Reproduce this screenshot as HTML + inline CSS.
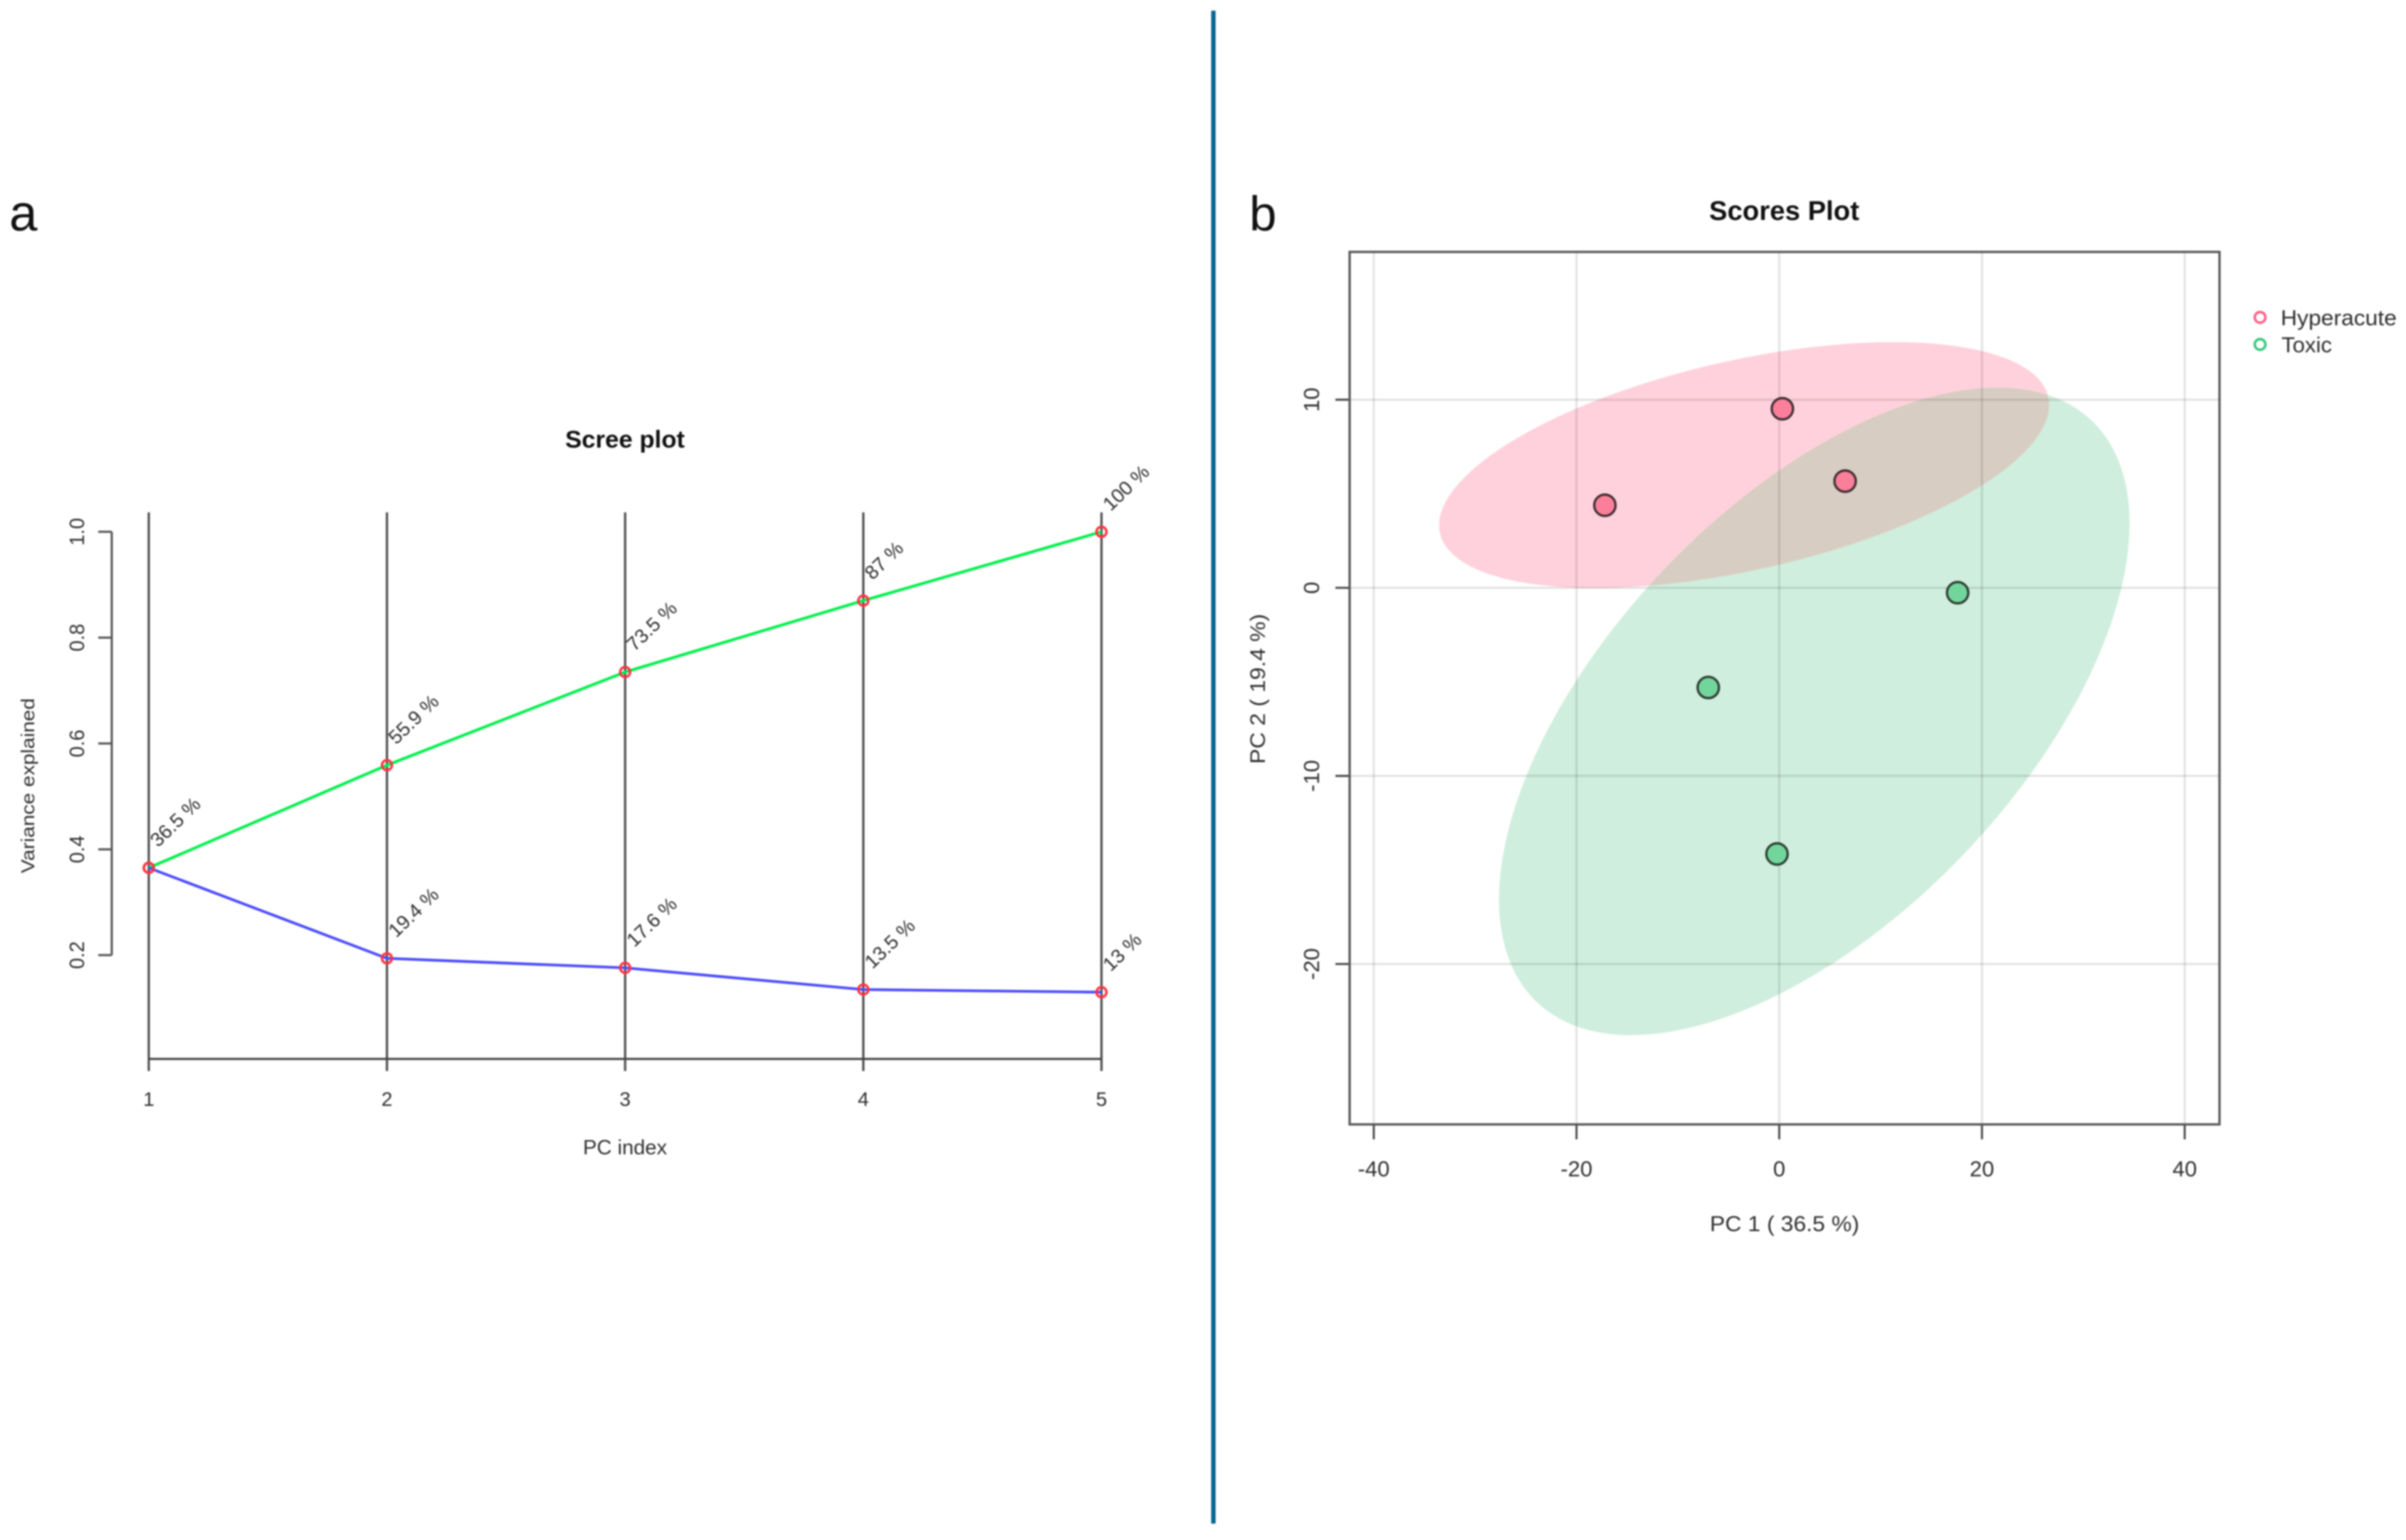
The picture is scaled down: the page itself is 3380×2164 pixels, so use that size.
<!DOCTYPE html>
<html>
<head>
<meta charset="utf-8">
<title>Scree plot and scores plot</title>
<style>
html,body{margin:0;padding:0;background:#fff;}
svg{display:block;width:3380px;height:2164px;font-family:"Liberation Sans",sans-serif;filter:blur(1px);}
</style>
</head>
<body>
<svg id="figure" xmlns="http://www.w3.org/2000/svg" width="3380" height="2164" viewBox="0 0 3380 2164">
  <rect x="0" y="0" width="3380" height="2164" fill="#fff"/>
  <rect x="1701.5" y="15" width="6.2" height="2126" fill="#046690"/>
  <text x="13" y="324" font-size="71" fill="#111">a</text>
  <text x="1755" y="324" font-size="69" fill="#111">b</text>
  <g id="scree">
    <text x="878" y="629" text-anchor="middle" font-size="34" font-weight="bold" fill="#111" textLength="168" lengthAdjust="spacingAndGlyphs">Scree plot</text>
    <text x="878" y="1622" text-anchor="middle" font-size="29" fill="#2f2f2f" textLength="118" lengthAdjust="spacingAndGlyphs">PC index</text>
    <text transform="translate(48 1104) rotate(-90)" text-anchor="middle" font-size="26" fill="#2f2f2f" textLength="246" lengthAdjust="spacingAndGlyphs">Variance explained</text>
  </g>
  <g id="scores">
    <text x="2506.5" y="309" text-anchor="middle" font-size="38" font-weight="bold" fill="#111" textLength="211" lengthAdjust="spacingAndGlyphs">Scores Plot</text>
    <text x="2507" y="1730" text-anchor="middle" font-size="31" fill="#2f2f2f" textLength="210" lengthAdjust="spacingAndGlyphs">PC 1 ( 36.5 %)</text>
    <text transform="translate(1777 968) rotate(-90)" text-anchor="middle" font-size="30" fill="#2f2f2f" textLength="211" lengthAdjust="spacingAndGlyphs">PC 2 ( 19.4 %)</text>
  </g>
  <g id="legend">
    <g>
      <circle cx="3175" cy="446" r="7.5" fill="none" stroke="#ff5c86" stroke-width="3.5"/>
      <text x="3204" y="457" font-size="31" fill="#2f2f2f" textLength="163" lengthAdjust="spacingAndGlyphs">Hyperacute</text>
    </g>
    <g>
      <circle cx="3175" cy="484" r="7.5" fill="none" stroke="#2fc878" stroke-width="3.5"/>
      <text x="3205" y="495" font-size="31" fill="#2f2f2f" textLength="71" lengthAdjust="spacingAndGlyphs">Toxic</text>
    </g>
  </g>
</svg>
<script>
// Scree plot data
const pcIndex = [1, 2, 3, 4, 5];
const cumulativeVariance = [0.365, 0.559, 0.735, 0.87, 1.0];
const individualVariance = [0.365, 0.194, 0.176, 0.135, 0.13];
const cumulativeLabels = ['36.5 %', '55.9 %', '73.5 %', '87 %', '100 %'];
const individualLabels = ['', '19.4 %', '17.6 %', '13.5 %', '13 %'];
const screeYTicks = [0.2, 0.4, 0.6, 0.8, 1.0];
const screeYTickLabels = ['0.2', '0.4', '0.6', '0.8', '1.0'];

// Scores plot data
const scoresXTicks = [-40, -20, 0, 20, 40];
const scoresYTicks = [-20, -10, 0, 10];
const hyperacutePC1 = [-17.2, 0.31, 6.5];
const hyperacutePC2 = [4.39, 9.52, 5.67];
const toxicPC1 = [-7.0, 17.6, -0.22];
const toxicPC2 = [-5.3, -0.26, -14.15];

const NS = 'http://www.w3.org/2000/svg';
const figure = document.getElementById('figure');
const scree = document.getElementById('scree');
const scores = document.getElementById('scores');

function make(tag, parent, attrs, text) {
  const node = document.createElementNS(NS, tag);
  for (const k in attrs) node.setAttribute(k, attrs[k]);
  if (text !== undefined) node.textContent = text;
  parent.appendChild(node);
  return node;
}

// Axis functions
const screeX = i => 209 + (i - 1) * 334.6;
const screeY = v => 747.3 + (1 - v) * 743.6;
const scoresX = v => 2499.5 + v * 14.24;
const scoresY = v => 826 - v * 26.43;

// ---- Scree plot ----
let el;
pcIndex.forEach(function (pc) {
  el = make('line', scree, {x1: screeX(pc), x2: screeX(pc), y1: 720, y2: 1505, stroke: '#4e4e4e', 'stroke-width': 3.2});
  
  
  el = make('text', scree, {x: screeX(pc), y: 1554, 'text-anchor': 'middle', 'font-size': 28, fill: '#2f2f2f'}, String(pc));
  
  
});
el = make('line', scree, {x1: screeX(pcIndex[0]), x2: screeX(pcIndex[pcIndex.length - 1]), y1: 1488, y2: 1488, stroke: '#444', 'stroke-width': 3});


el = make('line', scree, {x1: 157, x2: 157, y1: screeY(screeYTicks[0]), y2: screeY(screeYTicks[screeYTicks.length - 1]), stroke: '#555', 'stroke-width': 3});


screeYTicks.forEach(function (t, i) {
  el = make('line', scree, {x1: 138, x2: 157, y1: screeY(t), y2: screeY(t), stroke: '#555', 'stroke-width': 3});
  
  
  el = make('text', scree, {transform: 'translate(118 ' + screeY(t) + ') rotate(-90)', 'text-anchor': 'middle', 'font-size': 29, fill: '#2f2f2f', textLength: 39, lengthAdjust: 'spacingAndGlyphs'}, screeYTickLabels[i]);
  
  
});

function seriesPoints(values) {
  return values.map((v, i) => screeX(pcIndex[i]) + ',' + screeY(v)).join(' ');
}
el = make('polyline', scree, {points: seriesPoints(cumulativeVariance), fill: 'none', stroke: '#00f04c', 'stroke-width': 4});


el = make('polyline', scree, {points: seriesPoints(individualVariance), fill: 'none', stroke: '#4a4aff', 'stroke-width': 3.8});



function drawScreeSeries(values, labels, pointName, labelName) {
  values.forEach(function (v, i) {
    const px = screeX(pcIndex[i]);
    const py = screeY(v);
    const dot = make('circle', scree, {cx: px, cy: py, r: 7, fill: 'none', stroke: '#ff3040', 'stroke-width': 3.4});
    
    
    if (labels[i]) {
      const lab = make('text', scree, {transform: 'translate(' + (px + 13) + ' ' + (py - 28) + ') rotate(-44)', 'font-size': 27.5, fill: '#2f2f2f'}, labels[i]);
      
      
    }
  });
}
drawScreeSeries(cumulativeVariance, cumulativeLabels, 'cumulative-point', 'cumulative-value-label');
drawScreeSeries(individualVariance, individualLabels, 'individual-point', 'individual-value-label');

// ---- Scores plot ----
function mean(a) { return a.reduce((s, v) => s + v, 0) / a.length; }
function ellipsePath(xs, ys) {
  const mx = mean(xs), my = mean(ys), n = xs.length;
  let sxx = 0, syy = 0, sxy = 0;
  for (let i = 0; i < n; i++) {
    sxx += (xs[i] - mx) * (xs[i] - mx);
    syy += (ys[i] - my) * (ys[i] - my);
    sxy += (xs[i] - mx) * (ys[i] - my);
  }
  const sx = Math.sqrt(sxx / (n - 1)), sy = Math.sqrt(syy / (n - 1));
  const r = (sxy / (n - 1)) / (sx * sy);
  const k = 2.448; // 95% confidence region, chi-square with 2 df
  const parts = [];
  for (let j = 0; j < 180; j++) {
    const t = j / 180 * 2 * Math.PI;
    const ex = mx + k * sx * Math.cos(t);
    const ey = my + k * sy * (r * Math.cos(t) + Math.sqrt(1 - r * r) * Math.sin(t));
    parts.push((j ? 'L' : 'M') + scoresX(ex).toFixed(1) + ' ' + scoresY(ey).toFixed(1));
  }
  return parts.join(' ') + ' Z';
}
const pinkPath = ellipsePath(hyperacutePC1, hyperacutePC2);
const greenPath = ellipsePath(toxicPC1, toxicPC2);
el = make('path', scores, {d: pinkPath, fill: '#ffd1dc'});


el = make('path', scores, {d: greenPath, fill: '#cfeedd'});


const defs = make('defs', figure, {});
const clip = make('clipPath', defs, {id: 'pink-clip'});
make('path', clip, {d: pinkPath});
el = make('path', scores, {d: greenPath, fill: '#d8cdc2', 'clip-path': 'url(#pink-clip)'});



const boxLeft = 1896, boxRight = 3118, boxTop = 354, boxBottom = 1580;
scoresXTicks.forEach(function (t) {
  el = make('line', scores, {x1: scoresX(t), x2: scoresX(t), y1: boxTop, y2: boxBottom, stroke: '#000', 'stroke-opacity': 0.11, 'stroke-width': 3});
  
  
  el = make('line', scores, {x1: scoresX(t), x2: scoresX(t), y1: boxBottom, y2: 1601, stroke: '#444', 'stroke-width': 2.8});
  
  
  el = make('text', scores, {x: scoresX(t), y: 1653, 'text-anchor': 'middle', 'font-size': 31, fill: '#2f2f2f'}, String(t));
  
  
});
scoresYTicks.forEach(function (t) {
  el = make('line', scores, {x1: boxLeft, x2: boxRight, y1: scoresY(t), y2: scoresY(t), stroke: '#000', 'stroke-opacity': 0.11, 'stroke-width': 3});
  
  
  el = make('line', scores, {x1: 1876, x2: boxLeft, y1: scoresY(t), y2: scoresY(t), stroke: '#444', 'stroke-width': 2.8});
  
  
  el = make('text', scores, {transform: 'translate(1853 ' + scoresY(t) + ') rotate(-90)', 'text-anchor': 'middle', 'font-size': 31, fill: '#2f2f2f'}, String(t));
  
  
});
el = make('rect', scores, {x: boxLeft, y: boxTop, width: boxRight - boxLeft, height: boxBottom - boxTop, fill: 'none', stroke: '#555', 'stroke-width': 3.2});



hyperacutePC1.forEach(function (v, i) {
  el = make('circle', scores, {cx: scoresX(v), cy: scoresY(hyperacutePC2[i]), r: 15, fill: '#fb7f9b', stroke: '#3a2c30', 'stroke-width': 3.2});
  
  
});
toxicPC1.forEach(function (v, i) {
  el = make('circle', scores, {cx: scoresX(v), cy: scoresY(toxicPC2[i]), r: 15, fill: '#72d69c', stroke: '#2c3a30', 'stroke-width': 3.2});
  
  
});
</script>
</body>
</html>
